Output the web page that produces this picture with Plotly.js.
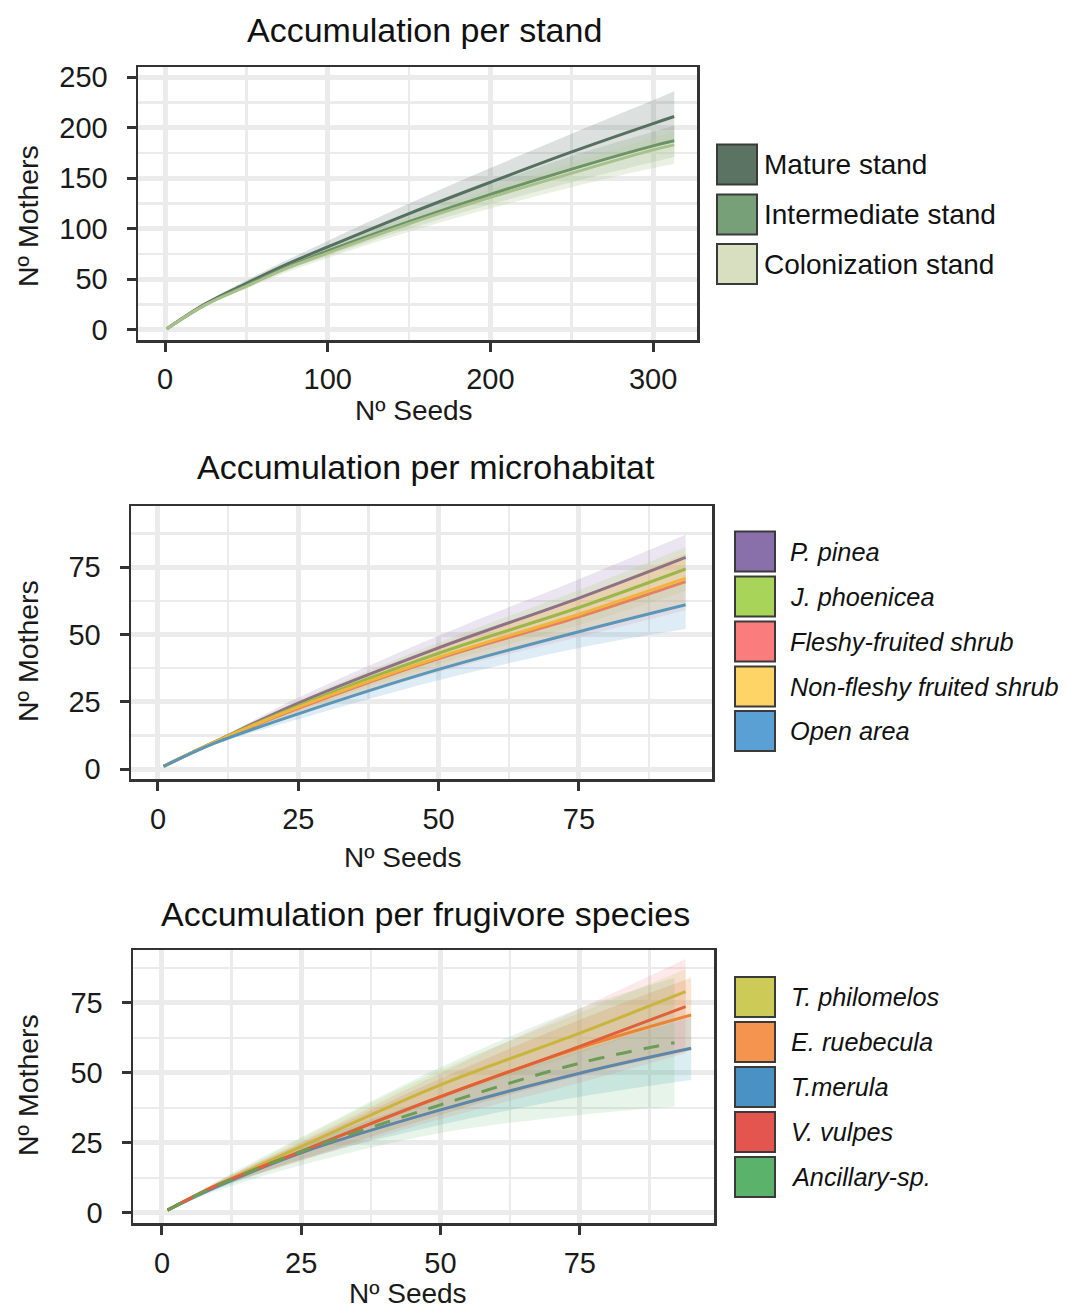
<!DOCTYPE html>
<html>
<head>
<meta charset="utf-8">
<script src="https://cdn.plot.ly/plotly-3.0.1.min.js"></script>
<style>html,body{margin:0;padding:0;background:#fff;}</style>
</head>
<body>
<div id="chart" style="width:1068px;height:1311px;"></div>
<script>
// ---------- Panel 1: accumulation per stand ----------
const standNames = ["Mature stand", "Intermediate stand", "Colonization stand"];
const standX = [1, 25, 50, 75, 100, 150, 200, 250, 300, 313];
const matureY  = [1, 26, 46, 65, 82, 115, 146, 176, 204, 211];
const matureUp = [1, 27, 49, 69, 88, 125, 160, 194, 227, 236];
const matureLo = [1, 25, 43, 61, 76, 105, 132, 158, 181, 186];
const interY   = [1, 25, 44, 62, 78, 107, 134, 159, 182, 187];
const interUp  = [1, 26, 46, 65, 83, 114, 144, 172, 196, 202];
const interLo  = [1, 24, 42, 59, 73, 100, 124, 146, 166, 171];
const colonY   = [1, 25, 43, 61, 76, 105, 131, 155, 178, 183];
const colonUp  = [1, 26, 45, 64, 80, 111, 139, 165, 190, 196];
const colonLo  = [1, 24, 41, 57, 71, 97, 120, 141, 160, 164];

// ---------- Panel 2: accumulation per microhabitat ----------
const microNames = ["P. pinea", "J. phoenicea", "Fleshy-fruited shrub", "Non-fleshy fruited shrub", "Open area"];
const microX = [1, 10, 25, 50, 75, 94];
const pineaY   = [1, 10, 24.5, 45, 63.5, 78.6];
const pineaUp  = [1, 10.5, 26.5, 49.5, 70.5, 87];
const pineaLo  = [1, 9.5, 22.5, 41, 57, 70];
const juniY    = [1, 10, 23.5, 43, 60, 74.3];
const juniUp   = [1, 10.5, 25.5, 47, 66.5, 82.5];
const juniLo   = [1, 9.5, 21.5, 39, 53.5, 66];
const fleshyY  = [1, 9.8, 22.5, 41, 56.5, 69.6];
const fleshyUp = [1, 10.4, 25, 46, 64, 80];
const fleshyLo = [1, 9.2, 20, 36, 49, 59];
const nonflY   = [1, 9.9, 23, 41.5, 57.5, 70.9];
const nonflUp  = [1, 10.4, 25, 45.5, 64, 80];
const nonflLo  = [1, 9.4, 21, 37.5, 51, 62];
const openY    = [1, 9.5, 20.5, 37, 51, 61];
const openUp   = [1, 10, 22.5, 41, 57, 70];
const openLo   = [1, 9, 18.5, 33, 45, 52];

// ---------- Panel 3: accumulation per frugivore species ----------
const frugNames = ["T. philomelos", "E. ruebecula", "T.merula", "V. vulpes", "Ancillary-sp."];
const philoX  = [1, 10, 25, 50, 75, 94];
const philoY  = [1, 10, 23.7, 45.7, 64.2, 79];
const philoUp = [1, 11, 26.5, 51, 71.5, 87];
const philoLo = [1, 9, 21, 40.5, 57, 70];
const rubeX   = [1, 10, 25, 50, 75, 95];
const rubeY   = [1, 10, 22, 41.5, 59, 70.7];
const rubeUp  = [1, 11, 25, 48, 69, 84];
const rubeLo  = [1, 9, 19, 35, 49, 58];
const meruX   = [1, 10, 25, 50, 75, 95];
const meruY   = [1, 9.5, 21.5, 36.8, 49.9, 58.8];
const meruUp  = [1, 10.5, 24, 42, 58, 70];
const meruLo  = [1, 8.5, 19, 31.5, 41.5, 47.5];
const vulpX   = [1, 10, 25, 50, 75, 94];
const vulpY   = [1, 10, 22, 41.5, 59.5, 73.7];
const vulpUp  = [1, 11, 25.5, 50, 73, 90.7];
const vulpLo  = [1, 9, 18.5, 33.5, 46.5, 57];
const ancX    = [1, 10, 25, 50, 75, 92];
const ancY    = [1, 9.8, 21.9, 38.6, 53.5, 60.8];
const ancUp   = [1, 11.5, 27, 52, 73, 84];
const ancLo   = [1, 8, 17, 28.5, 35, 38];

// ---------- styles ----------
const standLegend = ["#5a7363", "#77a079", "#d8dfc0"];
const standLine   = ["#56705f", "#6a9466", "#a9c08c"];
const standFill   = ["rgba(95,115,105,0.22)", "rgba(110,155,110,0.2)", "rgba(190,210,160,0.3)"];
const microLegend = ["#8a70aa", "#a8d45a", "#fa7c7c", "#fed466", "#5aa0d4"];
const microLine   = ["#8b7285", "#9ab84a", "#e88060", "#f0b43c", "#5a96b8"];
const microFill   = ["rgba(138,112,170,0.18)", "rgba(168,212,90,0.18)", "rgba(250,124,124,0.15)", "rgba(254,212,102,0.25)", "rgba(90,160,212,0.2)"];
const frugLegend  = ["#cccb58", "#f4944e", "#4b92c4", "#e5554f", "#5bb36b"];
const frugLine    = ["#c9b43c", "#ec8436", "#5f86a8", "#e0603a", "#6b9d55"];
const frugFill    = ["rgba(204,203,88,0.2)", "rgba(244,148,78,0.25)", "rgba(75,170,190,0.2)", "rgba(240,110,110,0.15)", "rgba(91,179,107,0.15)"];

const FONT = "Liberation Sans, Arial, sans-serif";
const traces = [];
function addGroup(xa, ya, xs, ys, ups, los, lineCols, fillCols, dashes) {
  for (let i = 0; i < ys.length; i++) {
    traces.push({type: "scatter", mode: "lines", x: xs[i], y: los[i], xaxis: xa, yaxis: ya,
      line: {width: 0, shape: "spline", color: fillCols[i]}, showlegend: false, hoverinfo: "skip"});
    traces.push({type: "scatter", mode: "lines", x: xs[i], y: ups[i], xaxis: xa, yaxis: ya,
      fill: "tonexty", fillcolor: fillCols[i],
      line: {width: 0, shape: "spline", color: fillCols[i]}, showlegend: false, hoverinfo: "skip"});
  }
  for (let i = 0; i < ys.length; i++) {
    traces.push({type: "scatter", mode: "lines", x: xs[i], y: ys[i], xaxis: xa, yaxis: ya,
      line: {width: 3, shape: "spline", color: lineCols[i], dash: dashes ? dashes[i] : "solid"},
      showlegend: false});
  }
}
addGroup("x", "y", [standX, standX, standX], [matureY, interY, colonY],
  [matureUp, interUp, colonUp], [matureLo, interLo, colonLo], standLine, standFill);
addGroup("x2", "y2", [microX, microX, microX, microX, microX],
  [pineaY, juniY, fleshyY, nonflY, openY], [pineaUp, juniUp, fleshyUp, nonflUp, openUp],
  [pineaLo, juniLo, fleshyLo, nonflLo, openLo], microLine, microFill);
addGroup("x3", "y3", [philoX, rubeX, meruX, vulpX, ancX],
  [philoY, rubeY, meruY, vulpY, ancY], [philoUp, rubeUp, meruUp, vulpUp, ancUp],
  [philoLo, rubeLo, meruLo, vulpLo, ancLo], frugLine, frugFill,
  ["solid", "solid", "solid", "solid", "16px,12px"]);

const W = 1068, H = 1311;
const px = v => v / W;
const py = v => 1 - v / H;

function axisBase(extra) {
  return Object.assign({
    showline: true, mirror: true, linecolor: "#333", linewidth: 2.5,
    ticks: "outside", ticklen: 9, tickwidth: 3, tickcolor: "#333",
    showgrid: true, gridcolor: "#ebebeb", gridwidth: 5, zeroline: false,
    tickfont: {family: FONT, size: 29, color: "#1a1a1a"},
    automargin: false, fixedrange: true
  }, extra);
}
const minorBig = d => ({dtick: d, tick0: 0, showgrid: true, gridcolor: "#ebebeb", gridwidth: 2.5, ticks: ""});

const layout = {
  width: W, height: H,
  margin: {l: 0, r: 0, t: 0, b: 0},
  paper_bgcolor: "#fff", plot_bgcolor: "#fff",
  showlegend: false,
  font: {family: FONT, color: "#1a1a1a"},
  xaxis: axisBase({domain: [px(138), px(697)], anchor: "y", range: [-16.6, 327], dtick: 100, tick0: 0,
    ticklabelstandoff: 3, minor: minorBig(50)}),
  yaxis: axisBase({domain: [py(340), py(67)], anchor: "x", range: [-10, 260], dtick: 50, tick0: 0,
    ticklabelstandoff: 13, minor: minorBig(25)}),
  xaxis2: axisBase({domain: [px(131), px(712)], anchor: "y2", range: [-4.8, 98.7], dtick: 25, tick0: 0,
    ticklabelstandoff: 4, minor: minorBig(12.5)}),
  yaxis2: axisBase({domain: [py(779), py(506)], anchor: "x2", range: [-3.7, 97.7], dtick: 25, tick0: 0,
    ticklabelstandoff: 13, minor: minorBig(12.5)}),
  xaxis3: axisBase({domain: [px(133), px(714)], anchor: "y3", range: [-5.2, 99.1], dtick: 25, tick0: 0,
    ticklabelstandoff: 4, minor: minorBig(12.5)}),
  yaxis3: axisBase({domain: [py(1223), py(950)], anchor: "x3", range: [-3.6, 93.9], dtick: 25, tick0: 0,
    ticklabelstandoff: 13, minor: minorBig(12.5)}),
  shapes: [],
  annotations: []
};

// panel titles
const panelTitles = [
  ["Accumulation per stand", 425, 30],
  ["Accumulation per microhabitat", 426, 467],
  ["Accumulation per frugivore species", 425.5, 914]
];
panelTitles.forEach(t => layout.annotations.push({
  text: t[0], xref: "paper", yref: "paper", x: px(t[1]), y: py(t[2]),
  xanchor: "center", yanchor: "middle", showarrow: false,
  font: {family: FONT, size: 34, color: "#111"}
}));

// axis titles
const xTitles = [["Nº Seeds", 414, 410], ["Nº Seeds", 403, 857], ["Nº Seeds", 408, 1293]];
xTitles.forEach(t => layout.annotations.push({
  text: t[0], xref: "paper", yref: "paper", x: px(t[1]), y: py(t[2]),
  xanchor: "center", yanchor: "middle", showarrow: false,
  font: {family: FONT, size: 28, color: "#1a1a1a"}
}));
const yTitles = [["Nº Mothers", 28, 216], ["Nº Mothers", 28, 651], ["Nº Mothers", 28, 1085]];
yTitles.forEach(t => layout.annotations.push({
  text: t[0], xref: "paper", yref: "paper", x: px(t[1]), y: py(t[2]),
  xanchor: "center", yanchor: "middle", showarrow: false, textangle: -90,
  font: {family: FONT, size: 28.5, color: "#1a1a1a"}
}));

// legends (key boxes + labels)
function addLegend(names, cols, boxX, textX, centers, italic, size) {
  names.forEach((n, i) => {
    const c = centers[i];
    layout.shapes.push({type: "rect", xref: "paper", yref: "paper",
      x0: px(boxX), x1: px(boxX + 40), y0: py(c + 20), y1: py(c - 20),
      fillcolor: cols[i], line: {color: "#3a3a3a", width: 2}});
    layout.annotations.push({text: n, xref: "paper", yref: "paper", x: px(textX), y: py(c),
      xanchor: "left", yanchor: "middle", showarrow: false,
      font: {family: FONT, size: size, color: "#111", style: italic ? "italic" : "normal"}});
  });
}
addLegend(standNames, standLegend, 717, 762, [164.5, 214.5, 264], false, 28);
addLegend(microNames, microLegend, 735, 788, [551.5, 596.5, 641.5, 686.5, 731], true, 25.3);
addLegend(frugNames, frugLegend, 735, 789, [997, 1042, 1087, 1132, 1177], true, 25.3);

Plotly.newPlot("chart", traces, layout, {displayModeBar: false, staticPlot: true});
</script>
</body>
</html>
